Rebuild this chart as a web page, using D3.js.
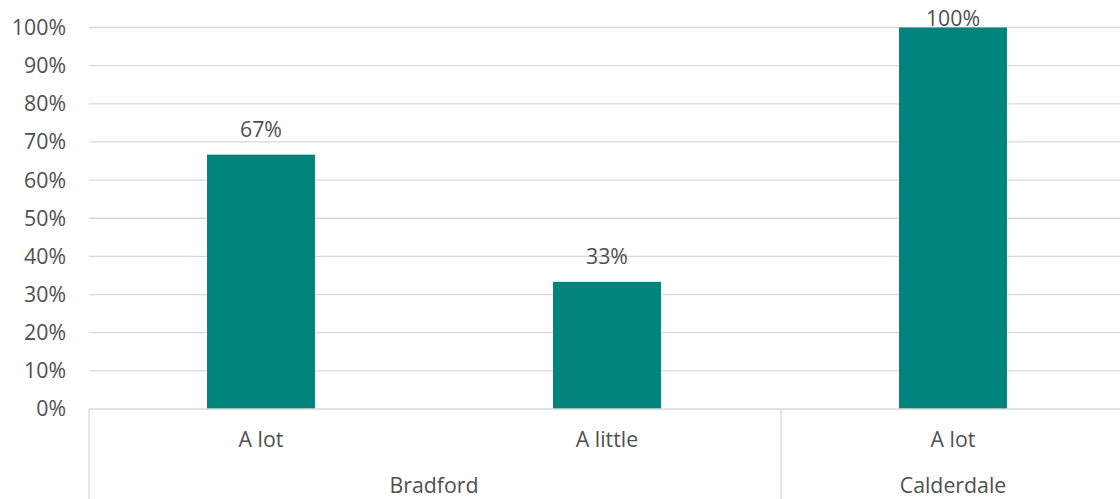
<!DOCTYPE html>
<html><head><meta charset="utf-8">
<script src="https://cdn.jsdelivr.net/npm/d3@7"></script>
<style>body{margin:0;background:#fff;}svg{display:block;font-family:"Open Sans",Lato,sans-serif;}</style>
</head><body>
<svg id="c" width="1120" height="499"></svg>
<script>
const categories = ["A lot", "A little", "A lot"];
const groups = ["Bradford", "Bradford", "Calderdale"];
const values = [0.6667, 0.3333, 1.0];
const groupNames = ["Bradford", "Calderdale"];
const yTicks = [0, 0.1, 0.2, 0.3, 0.4, 0.5, 0.6, 0.7, 0.8, 0.9, 1.0];

const svg = d3.select("#c");
const x0 = 88, step = 346, fs = 21.3;
const x = d3.scaleBand().domain(d3.range(categories.length)).range([x0, x0 + step * categories.length])
  .paddingInner(0.688).paddingOuter(0.344);
const y = d3.scaleLinear().domain([0, 1]).range([409, 27.5]);
const grid = "#d9d9d9", txt = "#505050";

// gridlines
svg.append("g").selectAll("line").data(yTicks.slice(1)).join("line")
  .attr("x1", x0 + 1).attr("x2", 1120).attr("y1", d => y(d)).attr("y2", d => y(d))
  .attr("stroke", grid).attr("stroke-width", 1.3);

// y tick labels
svg.append("g").selectAll("text").data(yTicks).join("text")
  .attr("x", 66).attr("y", d => y(d)).attr("dy", "0.35em").attr("text-anchor", "end")
  .attr("fill", txt).attr("font-size", fs).text(d => d3.format(".0%")(d));

// bars
svg.append("g").selectAll("rect").data(values).join("rect")
  .attr("x", (d, i) => x(i)).attr("width", x.bandwidth())
  .attr("y", d => y(d)).attr("height", d => y(0) - y(d)).attr("fill", "#00847C");

// data labels
svg.append("g").selectAll("text").data(values).join("text")
  .attr("x", (d, i) => x(i) + x.bandwidth() / 2).attr("y", d => Math.max(y(d) - 18, 25.5))
  .attr("text-anchor", "middle").attr("fill", txt).attr("font-size", fs)
  .text(d => d3.format(".0%")(d));

// x axis line
svg.append("line").attr("x1", x0 + 1).attr("x2", 1120).attr("y1", y(0)).attr("y2", y(0))
  .attr("stroke", grid).attr("stroke-width", 1.3);

// group separators
const groupRanges = groupNames.map(g => {
  const idx = d3.range(groups.length).filter(i => groups[i] === g);
  return {name: g, start: x0 + step * d3.min(idx), end: x0 + step * (d3.max(idx) + 1)};
});
svg.append("g").selectAll("line").data(groupRanges).join("line")
  .attr("x1", d => d.start + 1).attr("x2", d => d.start + 1).attr("y1", y(0)).attr("y2", 499)
  .attr("stroke", grid).attr("stroke-width", 1.3);

// category labels
svg.append("g").selectAll("text").data(categories).join("text")
  .attr("x", (d, i) => x(i) + x.bandwidth() / 2).attr("y", 446.5)
  .attr("text-anchor", "middle").attr("fill", txt).attr("font-size", fs).text(d => d);

// group labels
svg.append("g").selectAll("text").data(groupRanges).join("text")
  .attr("x", d => (d.start + d.end) / 2).attr("y", 492.5)
  .attr("text-anchor", "middle").attr("fill", txt).attr("font-size", fs).text(d => d.name);
</script>
</body></html>
